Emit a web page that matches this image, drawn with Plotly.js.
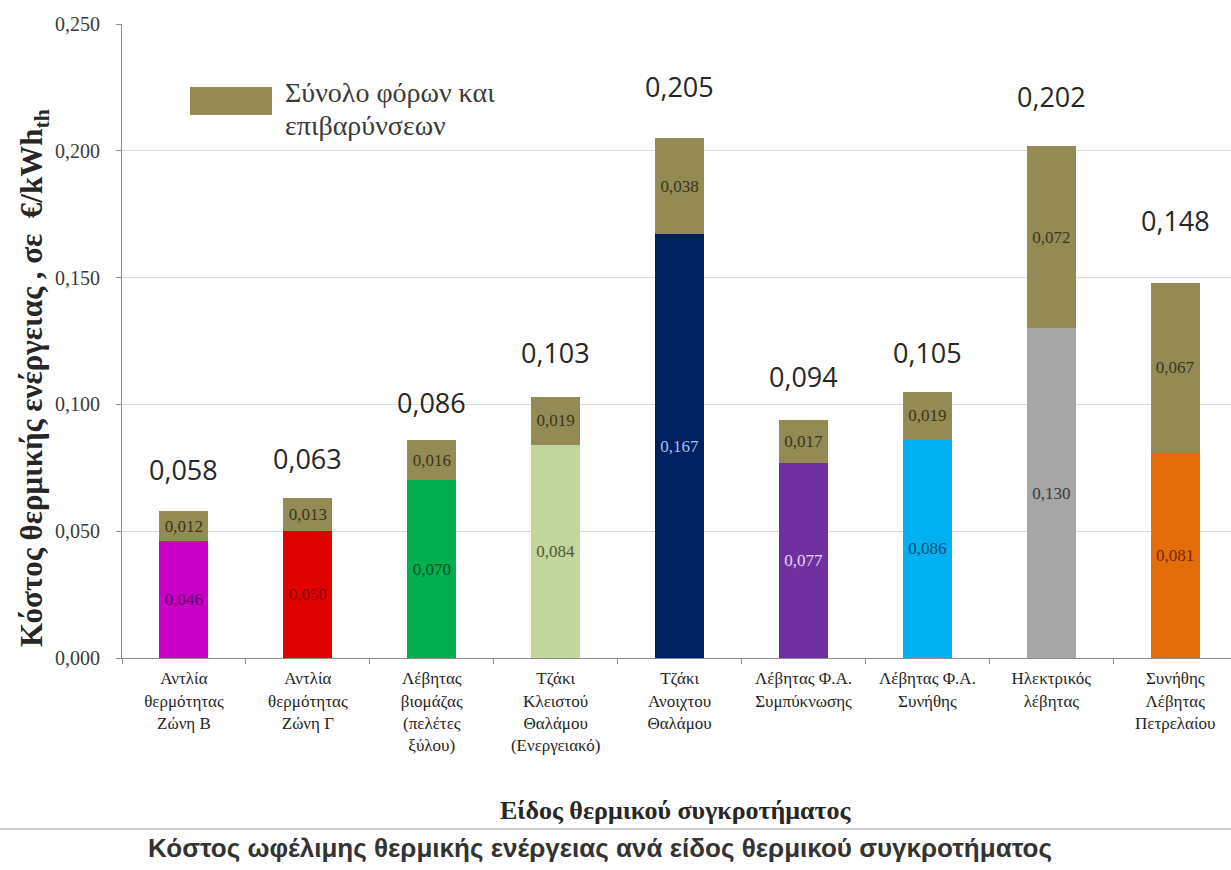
<!DOCTYPE html>
<html>
<head>
<meta charset="utf-8">
<script src="https://cdn.plot.ly/plotly-3.0.1.min.js"></script>
<style>
  html, body { margin: 0; padding: 0; background: #ffffff; }
  #chart { width: 1231px; height: 870px; }
</style>
</head>
<body>
<div id="chart"></div>
<script>
// Heating system types (category labels, line-broken as printed under the axis)
const systems = [
  "Αντλία<br>θερμότητας<br>Ζώνη Β",
  "Αντλία<br>θερμότητας<br>Ζώνη Γ",
  "Λέβητας<br>βιομάζας<br>(πελέτες<br>ξύλου)",
  "Τζάκι<br>Κλειστού<br>Θαλάμου<br>(Ενεργειακό)",
  "Τζάκι<br>Ανοιχτου<br>Θαλάμου",
  "Λέβητας Φ.Α.<br>Συμπύκνωσης",
  "Λέβητας Φ.Α.<br>Συνήθης",
  "Ηλεκτρικός<br>λέβητας",
  "Συνήθης<br>Λέβητας<br>Πετρελαίου"
];

// Energy cost before taxes, €/kWh_th
const baseCost = [0.046, 0.050, 0.070, 0.084, 0.167, 0.077, 0.086, 0.130, 0.081];

// Total of taxes and surcharges, €/kWh_th
const taxCost = [0.012, 0.013, 0.016, 0.019, 0.038, 0.017, 0.019, 0.072, 0.067];

// Styling: one fill per system for the base segment, and its label colour
const baseColors = ["#C800C8", "#E00000", "#00B050", "#C3D69B", "#002060",
                    "#7030A0", "#00B0F0", "#A6A6A6", "#E46C0A"];
const baseTextColors = ["#5E005E", "#8A0000", "#004F24", "#4E5A34", "#A9C0F0",
                        "#E6D8F4", "#004A70", "#3A3A3A", "#7A2A00"];
const taxColor = "#948A54";
const taxTextColor = "#3A361C";

// Pixel lift of each total label above its bar
const totalLift = [41, 40, 37, 44, 52, 43, 39, 49, 62];

const fmt = v => v.toFixed(3).replace(".", ",");
const totals = baseCost.map((b, i) => +(b + taxCost[i]).toFixed(3));

const BAR_W = 0.395;
const serif = "Liberation Serif, DejaVu Serif, serif";

const baseTrace = {
  type: "bar",
  x: systems,
  y: baseCost,
  width: BAR_W,
  marker: { color: baseColors, line: { width: 0 } },
  text: baseCost.map(fmt),
  textposition: "inside",
  insidetextanchor: "middle",
  textangle: 0,
  constraintext: "none",
  textfont: { family: serif, size: 17, color: baseTextColors },
  hoverinfo: "skip",
  showlegend: false
};

const taxTrace = {
  type: "bar",
  x: systems,
  y: taxCost,
  width: BAR_W,
  marker: { color: taxColor, line: { width: 0 } },
  text: taxCost.map(fmt),
  textposition: "inside",
  insidetextanchor: "middle",
  textangle: 0,
  constraintext: "none",
  textfont: { family: serif, size: 17, color: taxTextColor },
  hoverinfo: "skip",
  name: "Σύνολο φόρων και επιβαρύνσεων",
  showlegend: false
};

// Total value printed above each stacked bar
const totalLabels = systems.map((s, i) => ({
  x: s,
  y: totals[i],
  xref: "x",
  yref: "y",
  text: fmt(totals[i]),
  showarrow: false,
  yshift: totalLift[i],
  yanchor: "middle",
  font: { family: "Open Sans, Noto Sans, sans-serif", size: 27, color: "#262626" }
}));

// Plot area in pixels: x 122..1231, y 24..658
const PW = 1109, PH = 634;
const px = v => (v - 122) / PW;
const py = v => (658 - v) / PH;

const layout = {
  width: 1231,
  height: 870,
  margin: { l: 122, r: 0, t: 24, b: 212, pad: 0 },
  paper_bgcolor: "#ffffff",
  plot_bgcolor: "#ffffff",
  barmode: "stack",
  separators: ",.",
  showlegend: false,
  title: {
    text: "<b>Κόστος ωφέλιμης θερμικής ενέργειας ανά είδος θερμικού συγκροτήματος</b>",
    x: 600 / 1231,
    xanchor: "center",
    xref: "container",
    y: 1 - 848 / 870,
    yref: "container",
    yanchor: "middle",
    font: { family: "Liberation Sans, Arial, sans-serif", size: 26, color: "#333333" }
  },
  xaxis: {
    type: "category",
    range: [-0.5, 8.45],
    tickson: "boundaries",
    ticks: "outside",
    ticklen: 5,
    tickcolor: "#8C8C8C",
    showline: true,
    linecolor: "#8C8C8C",
    linewidth: 1,
    showgrid: false,
    ticklabelstandoff: 5,
    tickfont: { family: serif, size: 17, color: "#1F1F1F" },
    automargin: false,
    fixedrange: true
  },
  yaxis: {
    range: [0, 0.25],
    dtick: 0.05,
    tick0: 0,
    tickformat: ".3f",
    ticks: "outside",
    ticklen: 5,
    tickcolor: "#8C8C8C",
    showline: true,
    linecolor: "#8C8C8C",
    linewidth: 1,
    showgrid: true,
    gridcolor: "#DCDCDC",
    gridwidth: 1,
    zeroline: false,
    ticklabelstandoff: 12,
    tickfont: { family: serif, size: 20, color: "#3A3A3A" },
    automargin: false,
    fixedrange: true
  },
  shapes: [
    // legend swatch for the taxes series
    {
      type: "rect", xref: "paper", yref: "paper",
      x0: px(190), x1: px(272), y0: py(115), y1: py(87),
      fillcolor: taxColor, line: { width: 0 }
    },
    // separator line above the caption
    {
      type: "line", xref: "paper", yref: "paper",
      x0: px(0), x1: px(1231), y0: py(829), y1: py(829),
      line: { color: "#C0C0C0", width: 1.5 }
    }
  ],
  annotations: totalLabels.concat([
    {
      text: "Σύνολο φόρων και",
      xref: "paper", yref: "paper",
      x: px(283), y: py(92),
      xanchor: "left", yanchor: "middle",
      showarrow: false,
      font: { family: serif, size: 28, color: "#3A3A3A" }
    },
    {
      text: "επιβαρύνσεων",
      xref: "paper", yref: "paper",
      x: px(283), y: py(125),
      xanchor: "left", yanchor: "middle",
      showarrow: false,
      font: { family: serif, size: 28, color: "#3A3A3A" }
    },
    {
      text: "<b>Κόστος θερμικής ενέργειας , σε  €/kWh<sub>th</sub></b>",
      xref: "paper", yref: "paper",
      x: px(34), y: py(378),
      xanchor: "center", yanchor: "middle",
      textangle: -90,
      showarrow: false,
      font: { family: serif, size: 31, color: "#262626" }
    },
    {
      text: "<b>Είδος θερμικού συγκροτήματος</b>",
      xref: "paper", yref: "paper",
      x: px(676), y: py(810),
      xanchor: "center", yanchor: "middle",
      showarrow: false,
      font: { family: serif, size: 26, color: "#262626" }
    }
  ])
};

Plotly.newPlot("chart", [baseTrace, taxTrace], layout, { staticPlot: true, displayModeBar: false });
</script>
</body>
</html>
